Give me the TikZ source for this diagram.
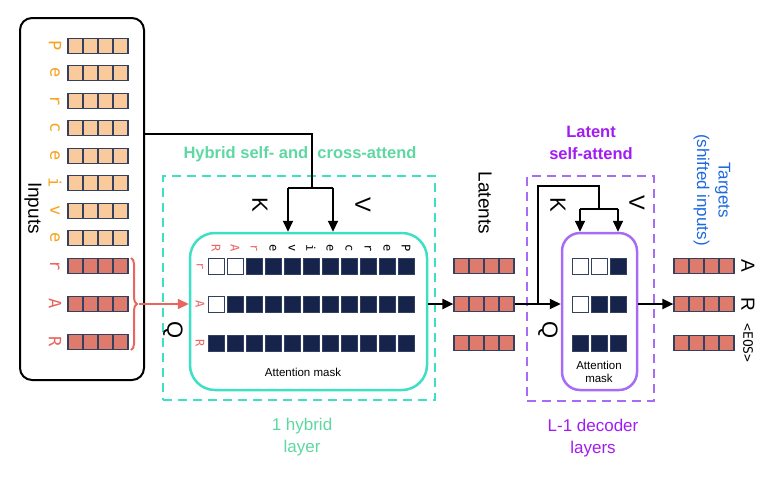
\documentclass[tikz,border=0pt]{standalone}
\usepackage{fontspec}
\setmainfont{Liberation Sans}
\setmonofont{DejaVu Sans Mono}
\usetikzlibrary{arrows.meta,decorations.pathreplacing}
\definecolor{navy}{HTML}{16234A}
\definecolor{cellline}{HTML}{34405F}
\definecolor{peach}{HTML}{F9CB9C}
\definecolor{salmon}{HTML}{DF7B6C}
\definecolor{inorange}{HTML}{F9A21B}
\definecolor{inred}{HTML}{E8665E}
\definecolor{hyteal}{HTML}{3EE0C5}
\definecolor{hytext}{HTML}{5ED8A2}
\definecolor{lilac}{HTML}{A66CF6}
\definecolor{decviolet}{HTML}{A21CF2}
\definecolor{tgtblue}{HTML}{1D6AE0}
\begin{document}
\begin{tikzpicture}[x=1pt,y=-1pt,
	vec/.style={draw=cellline,line width=1.2pt,inner sep=0pt,minimum width=60pt,minimum height=15pt,
		path picture={\foreach \k in {1,2,3}{\draw[cellline,line width=1.2pt]
			([xshift=\k*15pt]path picture bounding box.south west) -- ([xshift=\k*15pt]path picture bounding box.north west);}}},
	dcell/.style={draw=cellline,fill=navy,line width=0.8pt,minimum size=16pt,inner sep=0pt},
	wcell/.style={dcell,fill=white},
	ltr/.style={font=\fontsize{17}{17}\selectfont\ttfamily,rotate=-90,inner sep=0pt},
	mltr/.style={font=\fontsize{12}{12}\selectfont\ttfamily,rotate=-90,inner sep=0pt},
	lbl/.style={font=\fontsize{17}{21.5}\selectfont,align=center,inner sep=0pt},
	blbl/.style={lbl,font=\fontsize{16.5}{21.5}\selectfont\bfseries},
	big/.style={font=\fontsize{19}{19}\selectfont,rotate=-90,inner sep=0pt},
	kvq/.style={font=\fontsize{22}{22}\selectfont,rotate=-90,inner sep=0pt},
	small/.style={font=\fontsize{11.5}{13.5}\selectfont,align=center,inner sep=0pt},
	dbox/.style={dashed,dash pattern=on 9pt off 6pt,line width=2.5pt,inner sep=0pt},
	wire/.style={line width=2pt,black},
	arr/.style={wire,-{Triangle[length=11pt,width=10pt]}}]
	\useasboundingbox (0,0) rectangle (773,477);

	% inputs
	\node[draw,line width=2pt,rounded corners=12pt,minimum width=124,minimum height=362] (inbox) at (82,199) {};
	\foreach \ch/\yy [count=\i] in {P/46,e/73,r/101,c/128,e/156,i/183,v/211,e/238} {
		\node[vec,fill=peach] (in\i) at (98,\yy) {};
		\node[ltr,text=inorange] (ch\i) at (55,\yy) {\ch};
	}
	\foreach \ch/\yy [count=\i from 9] in {r/266,A/304,R/342} {
		\node[vec,fill=salmon] (in\i) at (98,\yy) {};
		\node[ltr,text=inred] (ch\i) at (55,\yy) {\ch};
	}
	\node[big] (inlbl) at (33,208) {Inputs};

	% hybrid layer
	\node[draw=hyteal,dbox,minimum width=272,minimum height=224] (hybox) at (299,288) {};
	\node[draw=hyteal,line width=2.5pt,rounded corners=25pt,minimum width=237,minimum height=157] (hmask) at (308.5,311.5) {};
	\foreach \r/\yy/\nw in {1/266/2,2/304/1,3/343/0} {
		\foreach \c in {0,...,10} {
			\ifnum\c<\nw
				\node[wcell] (hc\r-\c) at (216+19*\c,\yy) {};
			\else
				\node[dcell] (hc\r-\c) at (216+19*\c,\yy) {};
			\fi
		}
	}
	\foreach \ch/\col [count=\c from 0] in {R/inred,A/inred,r/inred,e/black,v/black,i/black,e/black,c/black,r/black,e/black,P/black}
		\node[mltr,text=\col] (hcol\c) at (216+19*\c,248) {\ch};
	\foreach \ch/\yy [count=\r] in {r/266,A/304,R/343}
		\node[mltr,text=inred] (hrow\r) at (200,\yy) {\ch};
	\node[small] (hmlbl) at (303,372) {Attention mask};
	\node[blbl,text=hytext] (hytitle) at (300,154) {Hybrid self- and\ \ cross-attend};
	\node[lbl,text=hytext] (hyfoot) at (302,437) {1 hybrid\\layer};
	\node[kvq] (hK) at (260,205) {K};
	\node[kvq] (hV) at (363,205) {V};
	\node[kvq] (hQ) at (173,330) {Q};

	% brace into Q
	\coordinate (brtop) at (131,258);
	\coordinate (brbot) at (131,350);
	\coordinate (brtip) at (139,304);
	\draw[inred,line width=2pt,decorate,decoration={brace,amplitude=6pt}] (brtop) -- (brbot);
	\draw[inred,line width=2pt,-{Triangle[length=11pt,width=10pt]}] (brtip) -- (brtip -| hmask.west);

	% K,V from inputs
	\coordinate (hturn) at (312,134);
	\coordinate (hsplit) at (312,188);
	\coordinate (hk) at (288,188);
	\coordinate (hv) at (333,188);
	\draw[wire] (inbox.east |- hturn) -- (hturn) -- (hsplit);
	\draw[wire] (hk) -- (hv);
	\draw[arr] (hk) -- (hk |- hmask.north);
	\draw[arr] (hv) -- (hv |- hmask.north);

	% latents
	\foreach \yy [count=\i] in {266,304,343}
		\node[vec,fill=salmon] (lat\i) at (484,\yy) {};
	\node[big] (latlbl) at (485,203) {Latents};
	\draw[arr] (hmask.east |- lat2) -- (lat2.west);

	% decoder layers
	\node[draw=lilac,dbox,minimum width=127,minimum height=225] (decbox) at (590.5,288.5) {};
	\node[draw=lilac,line width=2.5pt,rounded corners=18pt,minimum width=75,minimum height=157] (dmask) at (599.5,311.5) {};
	\foreach \r/\yy/\nw in {1/266/2,2/304/1,3/343/0} {
		\foreach \c in {0,1,2} {
			\ifnum\c<\nw
				\node[wcell] (dc\r-\c) at (580+19*\c,\yy) {};
			\else
				\node[dcell] (dc\r-\c) at (580+19*\c,\yy) {};
			\fi
		}
	}
	\node[small] (dmlbl) at (599,372) {Attention\\mask};
	\node[blbl,text=decviolet] (dectitle) at (591,143) {Latent\\self-attend};
	\node[lbl,text=decviolet] (decfoot) at (593,438) {L-1 decoder\\layers};
	\node[kvq] (dK) at (558,205) {K};
	\node[kvq] (dV) at (637,203) {V};
	\node[kvq] (dQ) at (548,330) {Q};

	\coordinate (dq) at (538,304);
	\coordinate (dturn) at (599,186);
	\coordinate (dsplit) at (599,209);
	\coordinate (dk) at (580,209);
	\coordinate (dv) at (618,209);
	\draw[arr] (lat2.east) -- (lat2 -| dmask.west);
	\draw[wire] (dq) |- (dturn) -- (dsplit);
	\draw[wire] (dk) -- (dv);
	\draw[arr] (dk) -- (dk |- dmask.north);
	\draw[arr] (dv) -- (dv |- dmask.north);

	% targets
	\foreach \yy [count=\i] in {266,304,343}
		\node[vec,fill=salmon] (tgt\i) at (704,\yy) {};
	\node[kvq,font=\fontsize{19}{19}\selectfont] (tA) at (748,266) {A};
	\node[kvq,font=\fontsize{19}{19}\selectfont] (tR) at (748,304) {R};
	\node[mltr,font=\fontsize{13}{13}\selectfont\ttfamily] (tE) at (748,343) {<EOS>};
	\node[lbl,rotate=-90,text=tgtblue] (tgtlbl) at (712,190) {Targets\\(shifted inputs)};
	\draw[arr] (dmask.east |- tgt2) -- (tgt2.west);
\end{tikzpicture}
\end{document}
